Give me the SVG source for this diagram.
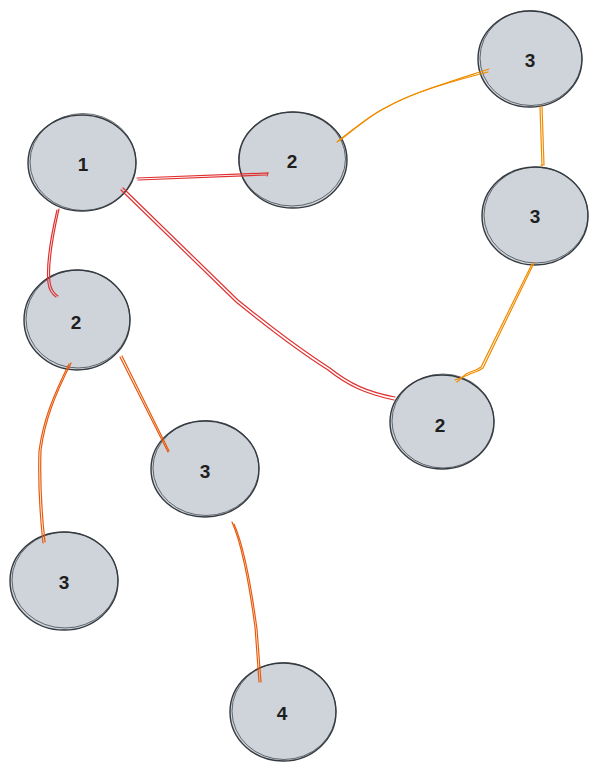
<svg xmlns="http://www.w3.org/2000/svg" width="600" height="773" viewBox="0 0 600 773">
<style>
.n{fill:#ced4da;stroke:#343a40;stroke-width:1.4}
.n2{fill:none;stroke:#343a40;stroke-width:0.9;opacity:0.8}
.t{font-family:"Liberation Sans",Arial,sans-serif;font-size:19px;font-weight:bold;fill:#1e1e1e;text-anchor:middle;dominant-baseline:central}
.e{fill:none;stroke-width:1.2;stroke-linecap:round}
.r{stroke:#e03131}
.o{stroke:#f08c00}
.d{stroke:#e8590c}
</style>
<rect width="600" height="773" fill="#ffffff"/>
<g id="node-1"><ellipse class="n" cx="82" cy="163" rx="54" ry="48"/><ellipse class="n2" cx="83" cy="162" rx="53" ry="48.5"/><text class="t" x="83" y="164">1</text></g>
<g id="node-2a"><ellipse class="n" cx="293" cy="160" rx="54" ry="48"/><ellipse class="n2" cx="292" cy="159" rx="53.5" ry="47"/><text class="t" x="292" y="161">2</text></g>
<g id="node-3a"><ellipse class="n" cx="530" cy="59" rx="52" ry="48"/><ellipse class="n2" cx="531" cy="58" rx="51" ry="47.5"/><text class="t" x="530" y="60">3</text></g>
<g id="node-3b"><ellipse class="n" cx="535" cy="216" rx="53" ry="49"/><ellipse class="n2" cx="536" cy="215" rx="52" ry="48"/><text class="t" x="535" y="216">3</text></g>
<g id="node-2b"><ellipse class="n" cx="77" cy="320" rx="53" ry="50"/><ellipse class="n2" cx="78" cy="319" rx="52" ry="49"/><text class="t" x="76" y="322">2</text></g>
<g id="node-2c"><ellipse class="n" cx="442" cy="422" rx="52" ry="47"/><ellipse class="n2" cx="443" cy="421" rx="51" ry="47"/><text class="t" x="440" y="425">2</text></g>
<g id="node-3c"><ellipse class="n" cx="205" cy="469" rx="54" ry="48"/><ellipse class="n2" cx="206" cy="468" rx="53" ry="47.5"/><text class="t" x="205" y="471">3</text></g>
<g id="node-3d"><ellipse class="n" cx="64" cy="581" rx="54" ry="49"/><ellipse class="n2" cx="65" cy="580" rx="53" ry="48"/><text class="t" x="64" y="582">3</text></g>
<g id="node-4"><ellipse class="n" cx="283" cy="712" rx="53" ry="49"/><ellipse class="n2" cx="284" cy="711" rx="52" ry="48.5"/><text class="t" x="282" y="713">4</text></g>
<g id="connectors">
<path class="e r" d="M137,178 L268,173 L267,176"/>
<path class="e r" d="M138,180 L266,175"/>
<path class="e r" d="M59,209 C52,240 48,265 50,282 C51,290 55,294 58,296"/>
<path class="e r" d="M57,210 C50,240 46,266 48,283 C49,291 53,295 56,297"/>
<path class="e r" d="M123,188 L238,300 C275,330 305,352 330,368 C350,384 368,392 395,397"/>
<path class="e r" d="M121,190 L236,302 C273,332 303,354 328,370 C348,386 366,394 394,400"/>
<path class="e o" d="M337,142 C355,128 370,115 385,108 C410,94 440,85 489,69"/>
<path class="e o" d="M339,141 C357,127 372,114 387,107 C412,93 442,84 488,72"/>
<path class="e o" d="M542,106 L544,165 L541,165"/>
<path class="e o" d="M540,107 L542,166"/>
<path class="e o" d="M534,263 L483,368 C478,372 473,372 468,375 L455,380"/>
<path class="e o" d="M532,264 L481,367 C476,371 471,371 466,374 L457,382"/>
<path class="e d" d="M71,363 C55,395 45,420 41,450 C40,480 42,515 45,542"/>
<path class="e d" d="M69,364 C53,396 43,421 39,451 C38,481 40,516 43,543"/>
<path class="e d" d="M120,357 L168,452"/>
<path class="e d" d="M122,356 L169,451"/>
<path class="e d" d="M232,522 C240,540 248,575 255,627 L259,682"/>
<path class="e d" d="M234,524 C242,542 250,577 257,629 L261,682"/>
</g>
</svg>
